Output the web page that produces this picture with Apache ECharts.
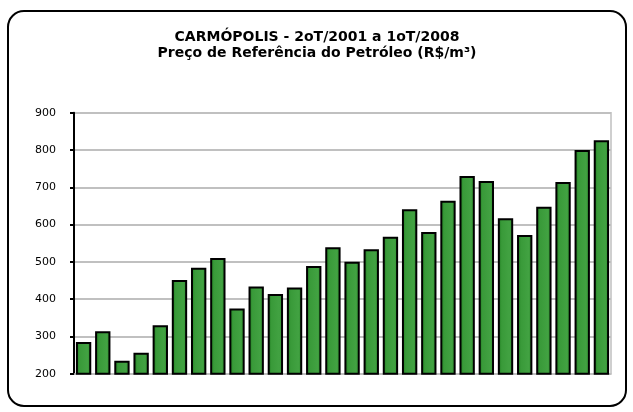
<!DOCTYPE html>
<html>
<head>
<meta charset="utf-8">
<script src="https://cdn.jsdelivr.net/npm/echarts@6/dist/echarts.min.js"></script>
<style>
  html, body { margin: 0; padding: 0; background: #fff; }
  #chart { width: 633px; height: 412px; }
</style>
</head>
<body>
<div id="chart"></div>
<script>
// trimestres 2oT/2001 .. 1oT/2008
const quarters = [
  '2T01', '3T01', '4T01',
  '1T02', '2T02', '3T02', '4T02',
  '1T03', '2T03', '3T03', '4T03',
  '1T04', '2T04', '3T04', '4T04',
  '1T05', '2T05', '3T05', '4T05',
  '1T06', '2T06', '3T06', '4T06',
  '1T07', '2T07', '3T07', '4T07',
  '1T08'
]
// preço de referência (R$/m3)
const precos = [
  285, 314, 235, 256, 330, 451, 484, 510, 375, 434, 414, 431, 489, 539,
  500, 534, 567, 641, 580, 664, 730, 717, 617, 572, 648, 714, 800, 826
]
const yTicks = [200, 300, 400, 500, 600, 700, 800, 900]

const chart = echarts.init(document.getElementById('chart'))

const barFill = new echarts.graphic.LinearGradient(0, 0, 1, 0, [
  { offset: 0, color: '#1d781d' },
  { offset: 0.25, color: '#399a39' },
  { offset: 0.75, color: '#42a242' },
  { offset: 1, color: '#2a8a2a' }
])

chart.setOption({
  animation: false,
  title: {
    text: 'CARMÓPOLIS - 2oT/2001 a 1oT/2008\nPreço de Referência do Petróleo (R$/m³)',
    left: 317,
    top: 29,
    padding: 0,
    textAlign: 'center',
    textStyle: {
      fontFamily: 'DejaVu Sans',
      fontSize: 14,
      fontWeight: 'bold',
      color: '#000',
      lineHeight: 16
    }
  },
  graphic: [{
    type: 'rect',
    shape: { x: 8, y: 11, width: 618, height: 395, r: 16 },
    style: { fill: 'none', stroke: '#000', lineWidth: 2 },
    z: 0
  }],
  grid: {
    left: 74, right: 22, top: 112.7, bottom: 38.3,
    show: true, borderColor: '#c0c0c0', borderWidth: 1.5
  },
  xAxis: {
    type: 'category',
    data: quarters,
    axisLine: { show: true, lineStyle: { color: '#c0c0c0', width: 1.5 } },
    axisTick: { show: false },
    axisLabel: { show: false }
  },
  yAxis: {
    type: 'value',
    min: yTicks[0],
    max: yTicks[yTicks.length - 1],
    interval: 100,
    axisLine: { show: true, lineStyle: { color: '#000', width: 2 } },
    axisTick: { show: true, length: 4, lineStyle: { color: '#000', width: 2 } },
    axisLabel: {
      margin: 18,
      fontFamily: 'DejaVu Sans',
      fontSize: 11,
      color: '#000'
    },
    splitLine: { lineStyle: { color: '#c0c0c0', width: 2 } }
  },
  series: [{
    type: 'bar',
    data: precos,
    barCategoryGap: '20%',
    itemStyle: { color: barFill, borderColor: '#000', borderWidth: 2 }
  }]
})
</script>
</body>
</html>
